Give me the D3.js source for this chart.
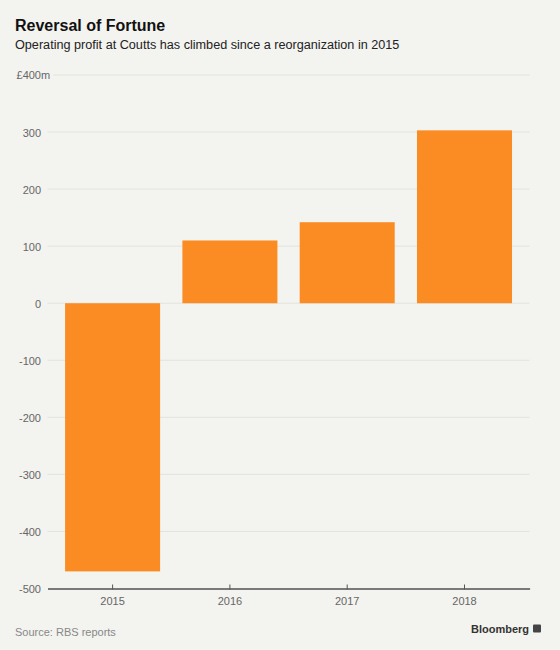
<!DOCTYPE html>
<html>
<head>
<meta charset="utf-8">
<script src="https://cdn.jsdelivr.net/npm/d3@7"></script>
<style>
  html, body { margin: 0; padding: 0; background: #f3f3ef; }
  svg { display: block; font-family: "Liberation Sans", Arial, sans-serif; }
</style>
</head>
<body>
<svg id="chart" width="560" height="650"></svg>
<script>
const years = ["2015", "2016", "2017", "2018"];
const profit = [-470, 110, 142, 303];
const yTicks = [400, 300, 200, 100, 0, -100, -200, -300, -400, -500];
const title = "Reversal of Fortune";
const subtitle = "Operating profit at Coutts has climbed since a reorganization in 2015";
const source = "Source: RBS reports";

const W = 560, H = 650;
const svg = d3.select("#chart");
svg.append("rect").attr("width", W).attr("height", H).attr("fill", "#f3f3ef");

const left = 47.5, right = 529.6;
const x = d3.scaleBand().domain(years).range([left, right]).paddingInner(0.19).paddingOuter(0.15);
const y = d3.scaleLinear().domain([-500, 400]).range([588.5, 75]);

// title
svg.append("text").attr("x", 15).attr("y", 30.5).attr("font-size", 16).attr("font-weight", "bold")
  .attr("fill", "#111").text(title);
svg.append("text").attr("x", 15).attr("y", 48.5).attr("font-size", 12.65)
  .attr("fill", "#222").text(subtitle);

// gridlines
svg.append("g").selectAll("line").data(yTicks.filter(d => d !== -500)).join("line")
  .attr("x1", d => d === 400 ? 53 : left).attr("x2", right)
  .attr("y1", d => y(d)).attr("y2", d => y(d))
  .attr("stroke", "#e3e3de").attr("stroke-width", 1);

// y labels
const yAxis = d3.axisLeft(y).tickValues(yTicks).tickSize(0).tickPadding(0)
  .tickFormat(d => d === 400 ? "£400" : String(d));
const yg = svg.append("g").attr("transform", `translate(41,0)`).call(yAxis);
yg.select(".domain").remove();
yg.selectAll("text").attr("font-size", 11).attr("fill", "#666")
  .attr("font-family", "Liberation Sans, Arial, sans-serif").attr("dy", "0.36em");
yg.selectAll(".tick").filter(d => d === 400).append("text")
  .attr("x", 0).attr("dy", "0.36em").attr("text-anchor", "start")
  .attr("font-size", 11).attr("fill", "#666").text("m");

// bars
svg.append("g").selectAll("rect").data(years).join("rect")
  .attr("x", d => x(d)).attr("width", x.bandwidth())
  .attr("y", (d, i) => y(Math.max(0, profit[i])))
  .attr("height", (d, i) => Math.abs(y(profit[i]) - y(0)))
  .attr("fill", "#fa8c23");

// x axis
const xAxis = d3.axisBottom(x).tickSizeInner(-4).tickSizeOuter(0).tickPadding(8);
const xg = svg.append("g").attr("transform", `translate(0,${y(-500)})`).call(xAxis);
xg.select(".domain").attr("stroke", "#7a7a7a").attr("stroke-width", 2);
xg.selectAll(".tick line").attr("stroke", "#555").attr("stroke-width", 1).attr("y2", -4).attr("y1", 1);
xg.selectAll("text").attr("font-size", 11).attr("fill", "#666")
  .attr("font-family", "Liberation Sans, Arial, sans-serif").attr("y", 8).attr("dy", "0.78em");

// footer
svg.append("text").attr("x", 15).attr("y", 636).attr("font-size", 11).attr("fill", "#888").text(source);
svg.append("text").attr("x", 529).attr("y", 632.5).attr("text-anchor", "end").attr("font-size", 11)
  .attr("font-weight", "bold").attr("fill", "#333").text("Bloomberg");
svg.append("rect").attr("x", 533).attr("y", 624.5).attr("width", 8).attr("height", 8).attr("rx", 1).attr("fill", "#444");
</script>
</body>
</html>
